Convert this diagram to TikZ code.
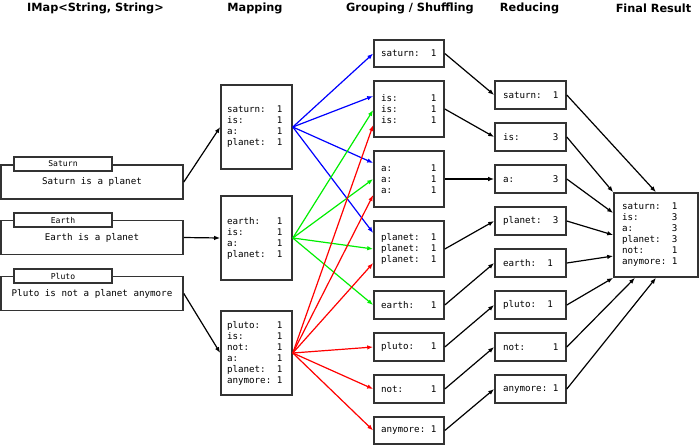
\documentclass[tikz,border=0pt]{standalone}
\usepackage{fontspec}
\setmainfont{DejaVu Sans}
\newfontfamily\monof{DejaVu Sans Mono}
\usetikzlibrary{arrows.meta}
\definecolor{edge}{HTML}{333333}
\definecolor{grn}{HTML}{00EE00}
\newcommand\sk[1]{\hspace*{#1\fontcharwd\font`0}}
\begin{document}
\begin{tikzpicture}[x=1pt,y=-1pt,
  hdr/.style={font=\bfseries\fontsize{11.3}{13}\selectfont, inner sep=0pt},
  box/.style={draw=edge, line width=1.6pt, fill=white, inner ysep=0pt, align=left,
              font=\monof\fontsize{9.2}{11}\selectfont},
  mapbox/.style={box, text width=59pt, inner xsep=6pt, minimum height=84pt},
  grpbox/.style={box, text width=56pt, inner xsep=7pt, minimum height=#1},
  redbox/.style={box, text width=55pt, inner xsep=8pt, minimum height=28pt},
  finbox/.style={box, text width=68pt, inner xsep=8pt, minimum height=84pt},
  srcbox/.style={draw=edge, line width=1.6pt, fill=white, minimum width=182pt, minimum height=34pt,
                 inner sep=0pt, font=\monof\fontsize{9.2}{11}\selectfont},
  tabbox/.style={draw=edge, line width=1.6pt, fill=white, minimum width=98pt, minimum height=14pt,
                 inner sep=0pt, font=\monof\fontsize{8.1}{9}\selectfont},
  arr/.style={-{Latex[length=6pt,width=4.5pt]}, line width=1.2pt},
  blk/.style={arr, black},
  blu/.style={arr, blue},
  gr/.style={arr, grn},
  rd/.style={arr, red}]
\useasboundingbox (0,0) rectangle (699,445);

% headers
\node[hdr] (h1) at (95.5,8.5) {IMap<String, String>};
\node[hdr] (h2) at (255,8.5) {Mapping};
\node[hdr] (h3) at (410,8.5) {Grouping / Shuffling};
\node[hdr] (h4) at (529.5,8.5) {Reducing};
\node[hdr] (h5) at (653.5,8.5) {Final Result};

% sources
\node[srcbox] (ssat) at (92,182) {Saturn is a planet};
\node[tabbox] (tsat) at (63,164) {Saturn};
\node[srcbox] (sear) at (92,237.5) {Earth is a planet};
\node[tabbox] (tear) at (63,220) {Earth};
\node[srcbox] (splu) at (92,293.5) {Pluto is not a planet anymore};
\node[tabbox] (tplu) at (63,276) {Pluto};

% mapping
\node[mapbox] (m1) at (256.5,127) {saturn:\sk{2}1\\is:\sk{6}1\\a:\sk{7}1\\planet:\sk{2}1};
\node[mapbox] (m2) at (256.5,238) {earth:\sk{3}1\\is:\sk{6}1\\a:\sk{7}1\\planet:\sk{2}1};
\node[mapbox] (m3) at (256.5,353) {pluto:\sk{3}1\\is:\sk{6}1\\not:\sk{5}1\\a:\sk{7}1\\planet:\sk{2}1\\anymore:\sk{1}1};

% grouping
\node[grpbox=27pt] (gsat) at (409,53.5) {saturn:\sk{2}1};
\node[grpbox=56pt] (gis) at (409,109) {is:\sk{6}1\\is:\sk{6}1\\is:\sk{6}1};
\node[grpbox=56pt] (ga) at (409,179) {a:\sk{7}1\\a:\sk{7}1\\a:\sk{7}1};
\node[grpbox=56pt] (gpla) at (409,249) {planet:\sk{2}1\\planet:\sk{2}1\\planet:\sk{2}1};
\node[grpbox=28pt] (gear) at (409,305) {earth:\sk{3}1};
\node[grpbox=28pt] (gplu) at (409,347) {pluto:\sk{3}1};
\node[grpbox=28pt] (gnot) at (409,389) {not:\sk{5}1};
\node[grpbox=27pt] (gany) at (409,430.5) {anymore:\sk{1}1};

% reducing
\node[redbox] (rsat) at (530.5,95) {saturn:\sk{2}1};
\node[redbox] (ris) at (530.5,137) {is:\sk{6}3};
\node[redbox] (ra) at (530.5,179) {a:\sk{7}3};
\node[redbox] (rpla) at (530.5,221) {planet:\sk{2}3};
\node[redbox] (rear) at (530.5,263) {earth:\sk{2}1};
\node[redbox] (rplu) at (530.5,305) {pluto:\sk{2}1};
\node[redbox] (rnot) at (530.5,347) {not:\sk{5}1};
\node[redbox] (rany) at (530.5,389) {anymore:\sk{1}1};

% final
\node[finbox] (fin) at (656,235) {saturn:\sk{2}1\\is:\sk{6}3\\a:\sk{7}3\\planet:\sk{2}3\\not:\sk{5}1\\anymore:\sk{1}1};

% source -> mapping
\draw[blk] (ssat.east) -- (m1.west);
\draw[blk] (sear.east) -- (m2.west);
\draw[blk] (splu.east) -- (m3.west);

% mapping -> grouping
\draw[blu] (m1.east) -- (gsat.west);
\draw[blu] (m1.east) -- ([yshift=13pt]gis.west);
\draw[blu] (m1.east) -- ([yshift=16pt]ga.west);
\draw[blu] (m1.east) -- ([yshift=16pt]gpla.west);

\draw[gr] (m2.east) -- ([yshift=-1pt]gis.west);
\draw[gr] (m2.east) -- (ga.west);
\draw[gr] (m2.east) -- (gpla.west);
\draw[gr] (m2.east) -- (gear.west);

\draw[rd] (m3.east) -- ([yshift=-16pt]gis.west);
\draw[rd] (m3.east) -- ([yshift=-16pt]ga.west);
\draw[rd] (m3.east) -- ([yshift=-14pt]gpla.west);
\draw[rd] (m3.east) -- (gplu.west);
\draw[rd] (m3.east) -- (gnot.west);
\draw[rd] (m3.east) -- (gany.west);

% grouping -> reducing
\draw[blk] (gsat.east) -- (rsat.west);
\draw[blk] (gis.east) -- (ris.west);
\draw[blk] (ga.east) -- (ra.west);
\draw[blk] (gpla.east) -- (rpla.west);
\draw[blk] (gear.east) -- (rear.west);
\draw[blk] (gplu.east) -- (rplu.west);
\draw[blk] (gnot.east) -- (rnot.west);
\draw[blk] (gany.east) -- (rany.west);

% reducing -> final
\draw[blk] (rsat.east) -- (fin.north);
\draw[blk] (ris.east) -- (fin.north west);
\draw[blk] (ra.east) -- ([yshift=22pt]fin.west);
\draw[blk] (rpla.east) -- (fin.west);
\draw[blk] (rear.east) -- ([yshift=-21pt]fin.west);
\draw[blk] (rplu.east) -- (fin.south west);
\draw[blk] (rnot.east) -- ([xshift=-21pt]fin.south);
\draw[blk] (rany.east) -- (fin.south);
\end{tikzpicture}
\end{document}
